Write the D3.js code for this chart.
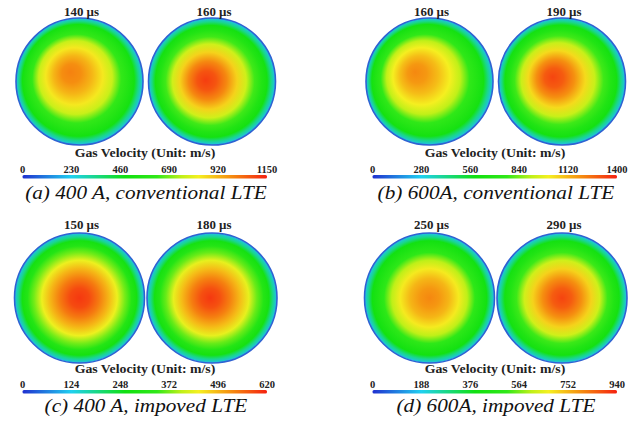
<!DOCTYPE html>
<html>
<head>
<meta charset="utf-8">
<script src="https://cdn.jsdelivr.net/npm/d3@7"></script>
<style>
  body { margin: 0; background: #fff; }
</style>
</head>
<body>
<script>
const width = 643;
const height = 426;
const serif = "'Liberation Serif', 'Times New Roman', 'DejaVu Serif', serif";

// panels a..d
const captions = [
  "(a) 400 A, conventional LTE",
  "(b) 600A, conventional LTE",
  "(c) 400 A, impoved LTE",
  "(d) 600A, impoved LTE"
];
const scaleMax = [1150, 1400, 620, 940];
const tickLabels = [
  [0, 230, 460, 690, 920, 1150],
  [0, 280, 560, 840, 1120, 1400],
  [0, 124, 248, 372, 496, 620],
  [0, 188, 376, 564, 752, 940]
];
const timeLabels = [
  ["140 µs", "160 µs"],
  ["160 µs", "190 µs"],
  ["150 µs", "180 µs"],
  ["250 µs", "290 µs"]
];

// radial position (0 = hot spot, 1 = wall) where velocities were read
const radialStops = [0, 0.15, 0.3, 0.45, 0.58, 0.7, 0.8, 0.88, 0.94, 1];
// gas velocity (m/s) along the radius, two snapshots per panel
const velocity = [
  [[1000, 980, 920, 840, 760, 635, 565, 505, 345, 205],
   [1105, 1070, 990, 875, 770, 645, 565, 505, 345, 205]],
  [[1205, 1175, 1105, 1010, 910, 770, 685, 615, 420, 250],
   [1330, 1290, 1190, 1050, 925, 785, 685, 615, 420, 250]],
  [[600, 585, 545, 495, 440, 370, 310, 275, 185, 110],
   [600, 580, 540, 490, 435, 365, 310, 275, 185, 110]],
  [[810, 790, 750, 685, 610, 510, 450, 405, 280, 170],
   [895, 865, 800, 715, 630, 525, 460, 415, 285, 170]]
];
// hot spot offset from the circle centre (fraction of radius)
const hotspotX = [[-0.15, -0.1], [-0.23, -0.15], [0, -0.03], [0, 0]];
const hotspotY = [[-0.15, -0.02], [-0.15, -0.07], [0, 0], [0, 0]];

const colorDomain = [0, 0.2, 0.42, 0.55, 0.65, 0.72, 0.85, 1];
const colorRange = ["#2030d0", "#20d0f0", "#10e010", "#30e818", "#c0f018", "#f5f020", "#f59010", "#f52010"];

const color = d3.scaleLinear().domain(colorDomain).range(colorRange).clamp(true);

const svg = d3.select("body").append("svg")
  .attr("width", width)
  .attr("height", height);
const defs = svg.append("defs");

// layout
const colX = [0, 350];
const rows = [
  { cy: 81.5, r: 63.5, title: 16, label: 157, ticks: 173, bar: 175, caption: 199 },
  { cy: 298, r: 65, title: 229, label: 373, ticks: 388, bar: 390, caption: 412 }
];
const circleX = [79.5, 212];

function stretch(sel, k) {
  sel.each(function () {
    const len = this.getComputedTextLength();
    d3.select(this).attr("textLength", len * k).attr("lengthAdjust", "spacingAndGlyphs");
  });
}

captions.forEach((cap, p) => {
  const row = rows[Math.floor(p / 2)];
  const g = svg.append("g")
    .attr("transform", `translate(${colX[p % 2]},0)`)
    .attr("font-family", serif);
  const t = d3.scaleLinear().domain([0, scaleMax[p]]).range([0, 1]);

  velocity[p].forEach((vals, k) => {
    const id = `grad-${p}-${k}`;
    const grad = defs.append("radialGradient")
      .attr("id", id)
      .attr("cx", "50%").attr("cy", "50%").attr("r", "50%")
      .attr("fx", 50 + hotspotX[p][k] * 50 + "%")
      .attr("fy", 50 + hotspotY[p][k] * 50 + "%");
    grad.selectAll("stop")
      .data(vals)
      .join("stop")
      .attr("offset", (d, i) => radialStops[i] * 100 + "%")
      .attr("stop-color", d => color(t(d)));

    g.append("circle")
      .attr("cx", circleX[k])
      .attr("cy", row.cy)
      .attr("r", row.r)
      .attr("fill", `url(#${id})`)
      .attr("stroke", "#2f62d2")
      .attr("stroke-width", 1.6);

    g.append("text")
      .attr("x", circleX[k] + 2)
      .attr("y", row.title)
      .attr("text-anchor", "middle")
      .attr("font-size", 11.5)
      .attr("font-weight", "bold")
      .attr("fill", "#222")
      .text(timeLabels[p][k])
      .call(stretch, 1.12);
  });

  // colour bar
  const x = d3.scaleLinear().domain([0, scaleMax[p]]).range([22.5, 267]);
  const barId = `bar-${p}`;
  const lg = defs.append("linearGradient").attr("id", barId);
  lg.selectAll("stop")
    .data(colorDomain)
    .join("stop")
    .attr("offset", d => d * 100 + "%")
    .attr("stop-color", (d, i) => colorRange[i]);
  g.append("rect")
    .attr("x", x(0))
    .attr("y", row.bar)
    .attr("width", x(scaleMax[p]) - x(0))
    .attr("height", 3.5)
    .attr("rx", 1.5)
    .attr("fill", `url(#${barId})`);

  g.selectAll(".tick")
    .data(tickLabels[p])
    .join("text")
    .attr("class", "tick")
    .attr("x", d => x(d))
    .attr("y", row.ticks)
    .attr("text-anchor", "middle")
    .attr("font-size", 10.5)
    .attr("font-weight", "bold")
    .attr("fill", "#222")
    .text(d => d);

  g.append("text")
    .attr("x", 145)
    .attr("y", row.label)
    .attr("text-anchor", "middle")
    .attr("font-size", 11.5)
    .attr("font-weight", "bold")
    .attr("fill", "#222")
    .text("Gas Velocity (Unit: m/s)")
    .call(stretch, 1.2);

  g.append("text")
    .attr("x", 146)
    .attr("y", row.caption)
    .attr("text-anchor", "middle")
    .attr("font-size", 18)
    .attr("font-style", "italic")
    .attr("fill", "#111")
    .text(cap)
    .call(stretch, 1.18);
});
</script>
</body>
</html>
